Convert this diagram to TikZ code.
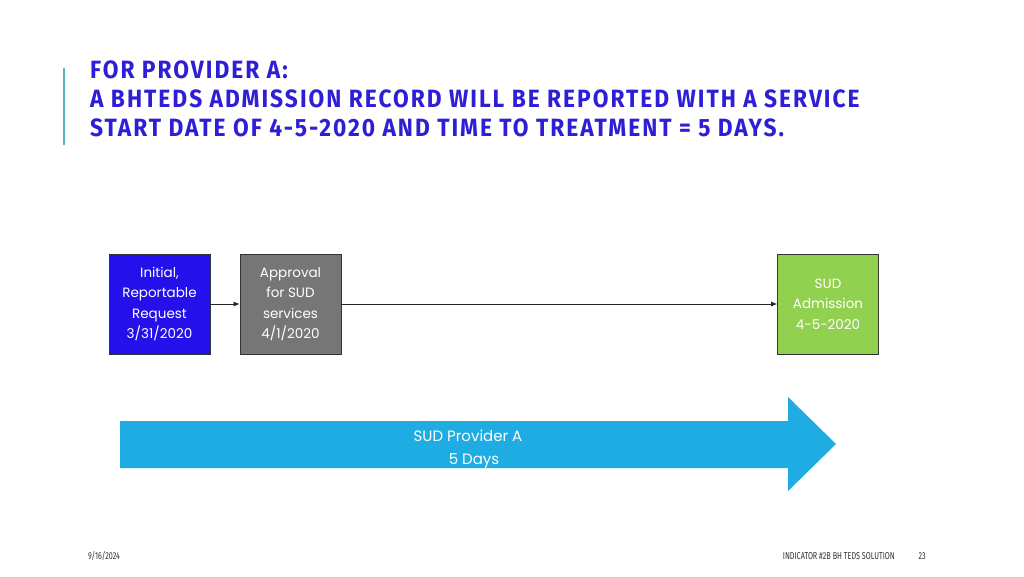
\documentclass[tikz,border=0pt]{standalone}
\usepackage{fontspec}
\usetikzlibrary{arrows.meta}
\setmainfont{Poppins}
\newfontfamily\titlefont[FakeStretch=0.91,LetterSpace=8]{Fira Sans}
\newfontfamily\footfont[FakeStretch=0.72]{Fira Sans}
\definecolor{titleblue}{HTML}{2E1FD6}
\definecolor{tealline}{HTML}{5AB4C4}
\definecolor{boxblue}{HTML}{2410EA}
\definecolor{boxgray}{HTML}{767676}
\definecolor{boxgreen}{HTML}{92D050}
\definecolor{arrowblue}{HTML}{1FACE2}
\begin{document}
\begin{tikzpicture}[x=1pt,y=-1pt,
  stepbox/.style={draw=black!80,line width=0.8pt,minimum width=101pt,minimum height=100pt,inner sep=0pt,text=white,align=center,font=\fontsize{13.5}{20.5}\selectfont},
  conn/.style={-{Latex[length=6pt,width=5pt]},line width=0.7pt,black!85}]
\useasboundingbox (0,0) rectangle (1024,576);
\fill[white] (0,0) rectangle (1024,576);
\draw[tealline,line width=1.6pt] (64,68) -- (64,145);
\node[anchor=base west,inner sep=0pt,text=titleblue,align=left,font=\titlefont\bfseries\fontsize{25}{28.8}\selectfont] (title) at (90,136)
 {FOR PROVIDER A:\\A BHTEDS ADMISSION RECORD WILL BE REPORTED WITH A SERVICE\\START DATE OF 4-5-2020 AND TIME TO TREATMENT = 5 DAYS.};
\node[stepbox,fill=boxblue] (b1) at (159.5,304) {\raisebox{-2.5pt}{\parbox{90pt}{\centering Initial,\\Reportable\\Request\\3/31/2020}}};
\node[stepbox,fill=boxgray] (b2) at (290.5,304) {\raisebox{-2.5pt}{\parbox{90pt}{\centering Approval\\for SUD\\services\\4/1/2020}}};
\node[stepbox,fill=boxgreen] (b3) at (828,304) {\raisebox{-1.5pt}{\parbox{90pt}{\centering SUD\\Admission\\4-5-2020}}};
\draw[conn] (b1.east) -- (b2.west);
\draw[conn] (b2.east) -- (b3.west);
\fill[arrowblue] (120,421) -- (788,421) -- (788,397) -- (836,444) -- (788,491) -- (788,468) -- (120,468) -- cycle;
\node[text=white,align=center,font=\fontsize{15}{23}\selectfont] (big) at (468,449) {SUD Provider A\\\hspace*{12pt}5 Days};
\node[anchor=base west,inner sep=0pt,font=\footfont\fontsize{10}{11}\selectfont,text=black!80] (date) at (88,559) {9/16/2024};
\node[anchor=base east,inner sep=0pt,font=\footfont\fontsize{10}{11}\selectfont,text=black!80] (ind) at (895,559) {INDICATOR \#2B BH TEDS SOLUTION};
\node[anchor=base east,inner sep=0pt,font=\footfont\fontsize{10}{11}\selectfont,text=black!80] (pg) at (926,559) {23};
\end{tikzpicture}
\end{document}
